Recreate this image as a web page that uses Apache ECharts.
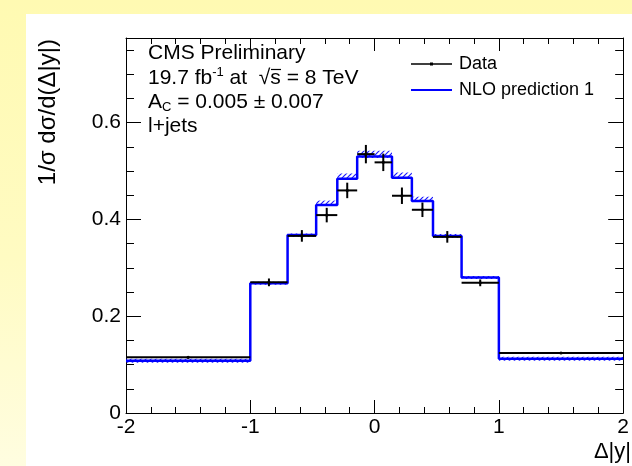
<!DOCTYPE html>
<html><head><meta charset="utf-8">
<script src="https://cdn.jsdelivr.net/npm/echarts@6/dist/echarts.min.js"></script>
<style>
html,body{margin:0;padding:0;}
#wrap{position:relative;width:632px;height:466px;background:linear-gradient(to bottom,#fffab2 0%,#fffbc2 55%,#fffde0 100%);overflow:hidden;}
#panel{position:absolute;left:26px;top:14px;width:606px;height:452px;background:#ffffff;}
#chart{position:absolute;left:0;top:0;width:632px;height:466px;}
</style></head><body>
<div id="wrap"><div id="panel"></div><div id="chart"></div></div>
<script>
// ---- data ----
const binEdges = [-2, -1, -0.7, -0.47, -0.3, -0.14, 0, 0.14, 0.3, 0.47, 0.7, 1, 2];
const dataValues = [0.115, 0.270, 0.366, 0.409, 0.460, 0.535, 0.518, 0.449, 0.420, 0.364, 0.269, 0.124];
const dataErrors = [0.002, 0.008, 0.012, 0.015, 0.016, 0.019, 0.018, 0.017, 0.015, 0.012, 0.007, 0.002];
const predValues = [0.108, 0.268, 0.368, 0.430, 0.484, 0.530, 0.530, 0.486, 0.438, 0.366, 0.280, 0.112];
const predUncUp = [0.004, 0.003, 0.003, 0.009, 0.011, 0.012, 0.012, 0.011, 0.009, 0.004, 0.003, 0.004];
const predUncDown = [0.004, 0.003, 0.004, 0.002, 0.002, 0.003, 0.003, 0.002, 0.002, 0.004, 0.003, 0.004];
const xTickLabels = [-2, -1, 0, 1, 2];
const yTickLabels = [0, 0.2, 0.4, 0.6];
const yMinorTicks = [0.05, 0.1, 0.15, 0.25, 0.3, 0.35, 0.45, 0.5, 0.55, 0.65, 0.7, 0.75];
const yMax = 0.775;

const FONT = '"Liberation Sans", Arial, Helvetica, sans-serif';

// hatch pattern
const hatch = document.createElement('canvas');
hatch.width = 5; hatch.height = 5;
(function(){
  const c = hatch.getContext('2d');
  c.strokeStyle = '#1a1aff'; c.lineWidth = 1.2;
  c.beginPath();
  c.moveTo(0, 5); c.lineTo(5, 0);
  c.moveTo(-1, 1); c.lineTo(1, -1);
  c.moveTo(4, 6); c.lineTo(6, 4);
  c.stroke();
})();

const bandData = [], stepData = [], pointData = [];
for (let i = 0; i < predValues.length; i++) {
  const lo = binEdges[i], hi = binEdges[i + 1];
  bandData.push([lo, hi, predValues[i] - predUncDown[i], predValues[i] + predUncUp[i]]);
  stepData.push([lo, predValues[i]]);
  stepData.push([hi, predValues[i]]);
  pointData.push([lo, hi, dataValues[i], dataErrors[i]]);
}

const baseAxis = {
  type: 'value',
  axisLine: { show: true, onZero: false, lineStyle: { color: '#000', width: 1 } },
  splitLine: { show: false },
  axisTick: { show: true, inside: true, lineStyle: { color: '#000', width: 1 } }
};

const xAxisCommon = Object.assign({}, baseAxis, {
  min: -2, max: 2, interval: 1,
  axisTick: { show: true, inside: true, length: 13, lineStyle: { color: '#000', width: 1 } },
  minorTick: { show: true, splitNumber: 5, length: 6, lineStyle: { color: '#000', width: 1 } }
});

const chart = echarts.init(document.getElementById('chart'), null, { renderer: 'canvas' });
chart.setOption({
  backgroundColor: 'transparent',
  animation: false,
  grid: { left: 126, right: 3, top: 38, bottom: 53 },
  xAxis: [
    Object.assign({}, xAxisCommon, {
      position: 'bottom',
      axisLabel: { show: true, customValues: xTickLabels, fontSize: 21, fontFamily: FONT, color: '#000', margin: 4 }
    }),
    Object.assign({}, xAxisCommon, { position: 'top', axisLabel: { show: false } })
  ],
  yAxis: [
    Object.assign({}, baseAxis, {
      position: 'left', min: 0, max: yMax,
      axisTick: { show: true, inside: true, length: 15, customValues: yTickLabels, lineStyle: { color: '#000' } },
      axisLabel: { show: true, customValues: yTickLabels, fontSize: 21, fontFamily: FONT, color: '#000', margin: 5,
        formatter: v => String(v) }
    }),
    Object.assign({}, baseAxis, {
      position: 'left', min: 0, max: yMax,
      axisLine: { show: false, onZero: false },
      axisTick: { show: true, inside: true, length: 8, customValues: yMinorTicks, lineStyle: { color: '#000' } },
      axisLabel: { show: false }
    }),
    Object.assign({}, baseAxis, {
      position: 'right', min: 0, max: yMax,
      axisTick: { show: true, inside: true, length: 15, customValues: yTickLabels, lineStyle: { color: '#000' } },
      axisLabel: { show: false }
    }),
    Object.assign({}, baseAxis, {
      position: 'right', min: 0, max: yMax,
      axisLine: { show: false, onZero: false },
      axisTick: { show: true, inside: true, length: 8, customValues: yMinorTicks, lineStyle: { color: '#000' } },
      axisLabel: { show: false }
    })
  ],
  legend: {
    left: 411, top: 54, orient: 'vertical', padding: 0,
    itemWidth: 43, itemHeight: 20, itemGap: 6,
    textStyle: { fontSize: 18, fontFamily: FONT, color: '#000' },
    data: [
      { name: 'Data', icon: 'path://M0,0h0.01v0.01h-0.01z M0,9.25H41V10.75H0Z M19,8.5h3v3h-3z M42.99,19.99h0.01v0.01h-0.01z' },
      { name: 'NLO prediction 1', icon: 'path://M0,0h0.01v0.01h-0.01z M0,9H41V11H0Z M42.99,19.99h0.01v0.01h-0.01z' }
    ]
  },
  graphic: [
    { type: 'text', x: 148, y: 53, style: { text: 'CMS Preliminary', font: '21px ' + FONT, fill: '#000', verticalAlign: 'middle', textVerticalAlign: 'middle' } },
    { type: 'text', x: 148, y: 78, style: {
      text: '{n|19.7 fb}{sup|-1}{n| at  √s = 8 TeV}', fill: '#000', verticalAlign: 'middle', textVerticalAlign: 'middle',
      rich: { n: { fontSize: 21, fontFamily: FONT, lineHeight: 24, fill: '#000' }, sup: { fontSize: 13, fontFamily: FONT, lineHeight: 13, verticalAlign: 'top', fill: '#000' } } } },
    { type: 'line', shape: { x1: 271, y1: 69.5, x2: 281, y2: 69.5 }, style: { stroke: '#000', lineWidth: 1.2 } },
    { type: 'text', x: 148, y: 102, style: {
      text: '{n|A}{sub|C}{n| = 0.005 ± 0.007}', fill: '#000', verticalAlign: 'middle', textVerticalAlign: 'middle',
      rich: { n: { fontSize: 21, fontFamily: FONT, lineHeight: 24, fill: '#000' }, sub: { fontSize: 13, fontFamily: FONT, lineHeight: 13, verticalAlign: 'bottom', fill: '#000' } } } },
    { type: 'text', x: 148, y: 126, style: { text: 'l+jets', font: '21px ' + FONT, fill: '#000', verticalAlign: 'middle', textVerticalAlign: 'middle' } },
    { type: 'text', x: 48, y: 39, rotation: Math.PI / 2, style: { text: '1/σ dσ/d(Δ|y|)', font: '24px ' + FONT, fill: '#000', align: 'right', textAlign: 'right', verticalAlign: 'middle', textVerticalAlign: 'middle' } },
    { type: 'text', x: 631, y: 452, style: { text: 'Δ|y|', font: '22px ' + FONT, fill: '#000', align: 'right', textAlign: 'right', verticalAlign: 'middle', textVerticalAlign: 'middle' } }
  ],
  series: [
    {
      name: 'NLO band', type: 'custom', xAxisIndex: 0, yAxisIndex: 0, clip: true, z: 1,
      data: bandData,
      renderItem: function (params, api) {
        const p0 = api.coord([api.value(0), api.value(3)]);
        const p1 = api.coord([api.value(1), api.value(2)]);
        return { type: 'rect', shape: { x: p0[0], y: p0[1], width: p1[0] - p0[0], height: p1[1] - p0[1] },
          style: { fill: { image: hatch, repeat: 'repeat' }, stroke: null } };
      }
    },
    {
      name: 'NLO prediction 1', type: 'line', xAxisIndex: 0, yAxisIndex: 0, data: stepData,
      showSymbol: false, symbol: 'none', color: '#0000ff', clip: true, z: 2,
      lineStyle: { color: '#0000ff', width: 2.5 }
    },
    {
      name: 'Data', type: 'custom', xAxisIndex: 0, yAxisIndex: 0, clip: true, z: 3, color: '#000',
      data: pointData,
      renderItem: function (params, api) {
        const lo = api.value(0), hi = api.value(1), v = api.value(2), e = api.value(3), c = (lo + hi) / 2;
        const a = api.coord([lo, v]), b = api.coord([hi, v]);
        const t = api.coord([c, v + e]), u = api.coord([c, v - e]);
        return { type: 'group', children: [
          { type: 'line', shape: { x1: a[0], y1: a[1], x2: b[0], y2: b[1] }, style: { stroke: '#000', lineWidth: 2 } },
          { type: 'line', shape: { x1: t[0], y1: t[1], x2: u[0], y2: u[1] }, style: { stroke: '#000', lineWidth: 2 } },
          { type: 'circle', shape: { cx: t[0], cy: a[1], r: 1.6 }, style: { fill: '#000' } }
        ] };
      }
    }
  ]
});
</script>
</body></html>
